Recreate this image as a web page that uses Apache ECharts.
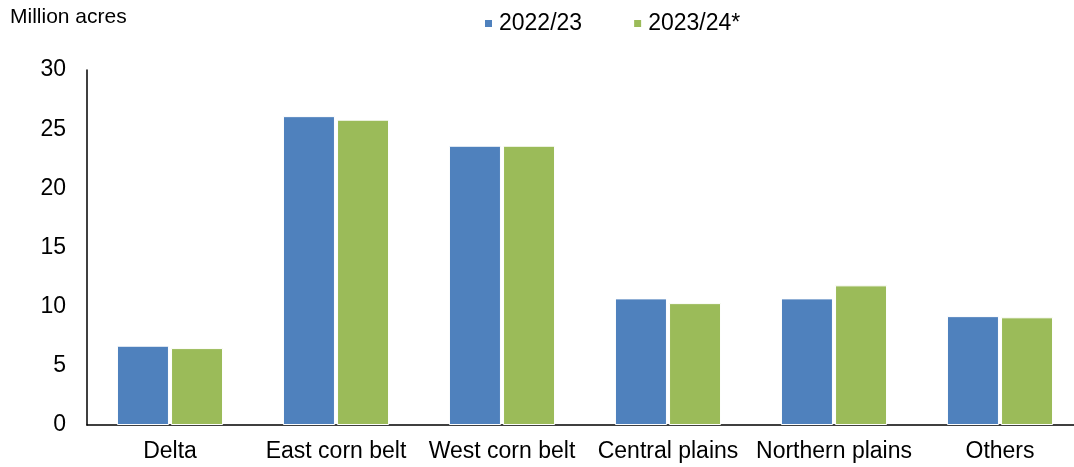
<!DOCTYPE html>
<html><head><meta charset="utf-8">
<script src="https://cdn.jsdelivr.net/npm/echarts@6/dist/echarts.min.js"></script>
<style>html,body{margin:0;padding:0;background:#fff;overflow:hidden}#c{width:1090px;height:467px}</style>
</head><body><div id="c"></div>
<script>
const categories = ["Delta", "East corn belt", "West corn belt", "Central plains", "Northern plains", "Others"];
const series2022 = [6.7, 26.1, 23.6, 10.7, 10.7, 9.2];
const series2023 = [6.5, 25.8, 23.6, 10.3, 11.8, 9.1];
const seriesNames = ["2022/23", "2023/24*"];
const yTicks = [0, 5, 10, 15, 20, 25, 30];

const font = "'Liberation Sans', Arial, sans-serif";
const chart = echarts.init(document.getElementById('c'), null, {renderer: 'canvas'});
chart.setOption({
  animation: false,
  textStyle: {fontFamily: font},
  graphic: [{type: 'text', left: 10, top: 7, style: {text: 'Million acres', fontSize: 21, fontFamily: font, fill: '#000'}}],
  legend: {
    top: 7, left: 478, itemWidth: 9, itemHeight: 9, itemGap: 50, icon: 'rect',
    textStyle: {fontSize: 23, color: '#000', fontFamily: font, padding: [0,0,0,1]},
    data: seriesNames
  },
  grid: {left: 87, top: 70, width: 996, height: 355, containLabel: false},
  xAxis: {
    type: 'category', data: categories,
    axisLine: {show: true, lineStyle: {color: '#000', width: 1.5}},
    axisTick: {show: false},
    axisLabel: {color: '#000', fontSize: 23, margin: 15, interval: 0, fontFamily: font}
  },
  yAxis: {
    type: 'value', min: yTicks[0], max: yTicks[yTicks.length-1], interval: 5,
    axisLine: {show: true, lineStyle: {color: '#000', width: 1.5}},
    axisTick: {show: false},
    splitLine: {show: false},
    axisLabel: {color: '#000', fontSize: 23, margin: 21, fontFamily: font}
  },
  series: [
    {name: seriesNames[0], type: 'bar', data: series2022, barWidth: 52, barGap: '4%',
     itemStyle: {color: '#4F81BD', borderColor: '#fff', borderWidth: 1}},
    {name: seriesNames[1], type: 'bar', data: series2023, barWidth: 52,
     itemStyle: {color: '#9BBB59', borderColor: '#fff', borderWidth: 1}}
  ]
});
</script></body></html>
